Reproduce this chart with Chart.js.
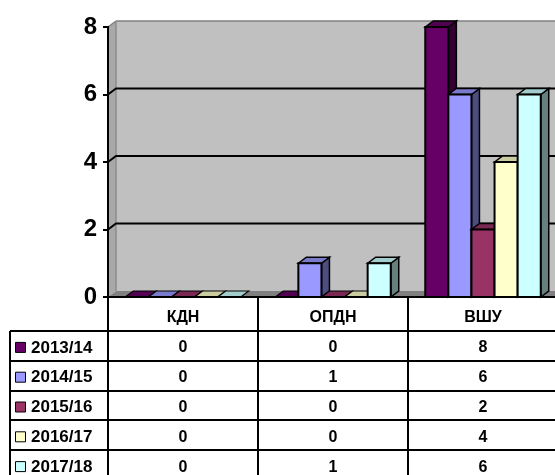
<!DOCTYPE html>
<html>
<head>
<meta charset="utf-8">
<script src="https://cdn.jsdelivr.net/npm/chart.js@4.4.1/dist/chart.umd.min.js"></script>
<style>
  html, body { margin: 0; padding: 0; background: #fff; overflow: hidden; }
  #wrap { width: 560px; height: 475px; }
</style>
</head>
<body>
<div id="wrap"><canvas id="grafico"></canvas></div>
<script>
// dados do gráfico
const categorias = ["КДН", "ОПДН", "ВШУ"];
const anos = ["2013/14", "2014/15", "2015/16", "2016/17", "2017/18"];
const valores2013 = [0, 0, 8];
const valores2014 = [0, 1, 6];
const valores2015 = [0, 0, 2];
const valores2016 = [0, 0, 4];
const valores2017 = [0, 1, 6];
const marcasY = [0, 2, 4, 6, 8];
const cores = ["#660066", "#9999FF", "#993366", "#FFFFCC", "#CCFFFF"];

const series = [valores2013, valores2014, valores2015, valores2016, valores2017];

// profundidade do efeito 3D
const DX = 8;
const DY = -6;
const FONTE = "'Liberation Sans', Arial, sans-serif";

function escurecer(hex, f) {
    let n = parseInt(hex.slice(1), 16);
    let r = Math.round(((n >> 16) & 255) * f);
    let g = Math.round(((n >> 8) & 255) * f);
    let b = Math.round((n & 255) * f);
    return `rgb(${r},${g},${b})`;
}

function poligono(ctx, pts, fill, stroke, lw) {
    ctx.beginPath();
    ctx.moveTo(pts[0][0], pts[0][1]);
    for (let i = 1; i < pts.length; i++) ctx.lineTo(pts[i][0], pts[i][1]);
    ctx.closePath();
    if (fill) { ctx.fillStyle = fill; ctx.fill(); }
    if (stroke) { ctx.strokeStyle = stroke; ctx.lineWidth = lw || 1; ctx.stroke(); }
}

function linha(ctx, x1, y1, x2, y2, cor, lw) {
    ctx.beginPath();
    ctx.moveTo(x1, y1);
    ctx.lineTo(x2, y2);
    ctx.strokeStyle = cor;
    ctx.lineWidth = lw;
    ctx.stroke();
}

// paredes, chão e grade
const paredes = {
    id: "paredes",
    beforeDraw(chart) {
        const { ctx, chartArea: a, scales: { y } } = chart;
        const L = a.left, R = a.right, T = a.top, B = a.bottom;
        ctx.save();
        poligono(ctx, [[L + DX, T + DY], [R + DX, T + DY], [R + DX, B + DY], [L + DX, B + DY]], "#c0c0c0");
        poligono(ctx, [[L, T], [L + DX, T + DY], [L + DX, B + DY], [L, B]], "#a8a8a8");
        poligono(ctx, [[L, B], [L + DX, B + DY], [R + DX, B + DY], [R, B]], "#808080");
        linha(ctx, L, T, L + DX, T + DY, "#808080", 1.5);
        linha(ctx, L + DX, T + DY, R + DX, T + DY, "#808080", 1.5);
        linha(ctx, L + DX, T + DY, L + DX, B + DY, "#8c8c8c", 1.5);
        marcasY.forEach(v => {
            if (v <= y.min || v >= y.max) return;
            const py = y.getPixelForValue(v);
            ctx.beginPath();
            ctx.moveTo(L, py);
            ctx.lineTo(L + DX, py + DY);
            ctx.lineTo(R + DX, py + DY);
            ctx.strokeStyle = "#000";
            ctx.lineWidth = 2;
            ctx.stroke();
        });
        ctx.restore();
    }
};

// barras em 3D (frente, lado e topo), da esquerda para a direita
const barras3d = {
    id: "barras3d",
    afterDatasetsDraw(chart) {
        const { ctx, chartArea: a } = chart;
        const B = a.bottom;
        ctx.save();
        ctx.lineJoin = "miter";
        for (let j = 0; j < categorias.length; j++) {
            for (let i = 0; i < series.length; i++) {
                const bar = chart.getDatasetMeta(i).data[j];
                const p = bar.getProps(["x", "y", "base", "width"], true);
                const x0 = p.x - p.width / 2, x1 = p.x + p.width / 2, top = p.y;
                const topo = escurecer(cores[i], 0.8);
                const lado = escurecer(cores[i], 0.5);
                if (series[i][j] === 0) {
                    poligono(ctx, [[x0, B], [x0 + DX, B + DY], [x1 + DX, B + DY], [x1, B]], topo, "#000", 1.2);
                    continue;
                }
                poligono(ctx, [[x1, top], [x1 + DX, top + DY], [x1 + DX, B + DY], [x1, B]], lado, "#000", 1.5);
                poligono(ctx, [[x0, top], [x0 + DX, top + DY], [x1 + DX, top + DY], [x1, top]], topo, "#000", 1.5);
                poligono(ctx, [[x0, top], [x1, top], [x1, B], [x0, B]], cores[i], "#000", 2);
            }
        }
        ctx.restore();
    }
};

// tabela de dados abaixo do gráfico
const tabela = {
    id: "tabela",
    afterDraw(chart) {
        const { ctx, chartArea: a, scales: { x } } = chart;
        const L = a.left, R = a.right, B = a.bottom;
        const H = chart.height;
        const larg = (R - L) / categorias.length;
        const topoTab = B + 34;
        const altLinha = 29.8;
        const esq = 10;
        ctx.save();
        // linhas verticais
        linha(ctx, L, B, L, H, "#000", 2);
        for (let j = 1; j <= categorias.length; j++) {
            linha(ctx, L + j * larg, B, L + j * larg, H, "#000", 2);
        }
        linha(ctx, esq, topoTab, esq, H, "#000", 2);
        // linhas horizontais
        for (let i = 0; i <= anos.length; i++) {
            const yy = Math.round(topoTab + i * altLinha);
            linha(ctx, esq, yy, R, yy, "#000", 2);
        }
        ctx.fillStyle = "#000";
        ctx.textBaseline = "middle";
        anos.forEach((ano, i) => {
            const cy = topoTab + (i + 0.5) * altLinha + 2;
            poligono(ctx, [[15.5, cy - 5.5], [25.5, cy - 5.5], [25.5, cy + 4.5], [15.5, cy + 4.5]], cores[i], "#000", 1);
            ctx.font = `bold 17px ${FONTE}`;
            ctx.textAlign = "left";
            ctx.fillStyle = "#000";
            ctx.fillText(ano, 31, cy);
            ctx.font = `bold 16px ${FONTE}`;
            ctx.textAlign = "center";
            series[i].forEach((v, j) => {
                ctx.fillText(String(v), x.getPixelForValue(j), cy);
            });
        });
        ctx.restore();
    }
};

const ctxGrafico = document.getElementById("grafico").getContext("2d");

let grafico = new Chart(ctxGrafico, {
    type: "bar",
    data: {
        labels: categorias,
        datasets: anos.map((ano, i) => ({
            label: ano,
            data: series[i],
            backgroundColor: cores[i],
            borderColor: "#000",
            borderWidth: 2,
            categoryPercentage: 0.77,
            barPercentage: 1.0
        }))
    },
    options: {
        responsive: true,
        maintainAspectRatio: false,
        animation: false,
        layout: { padding: { top: 27, right: 2, left: 0, bottom: 0 } },
        plugins: { legend: { display: false }, tooltip: { enabled: false } },
        scales: {
            x: {
                grid: { display: true, drawOnChartArea: false, drawTicks: false },
                border: { display: true, color: "#000", width: 2, z: 1 },
                ticks: { color: "#000", font: { family: FONTE, size: 16, weight: "bold" }, padding: 11, maxRotation: 0, autoSkip: false },
                afterFit: s => { s.height = 475 - 297; }
            },
            y: {
                min: 0,
                max: 8,
                grid: { drawOnChartArea: false, drawTicks: true, tickLength: 5, color: "#000", lineWidth: 2 },
                border: { display: true, color: "#000", width: 2, z: 1 },
                ticks: { stepSize: 2, color: "#000", padding: 6, font: { family: FONTE, size: 24, weight: "bold" } },
                afterFit: s => { s.width = 108; }
            }
        }
    },
    plugins: [paredes, barras3d, tabela]
});
</script>
</body>
</html>
